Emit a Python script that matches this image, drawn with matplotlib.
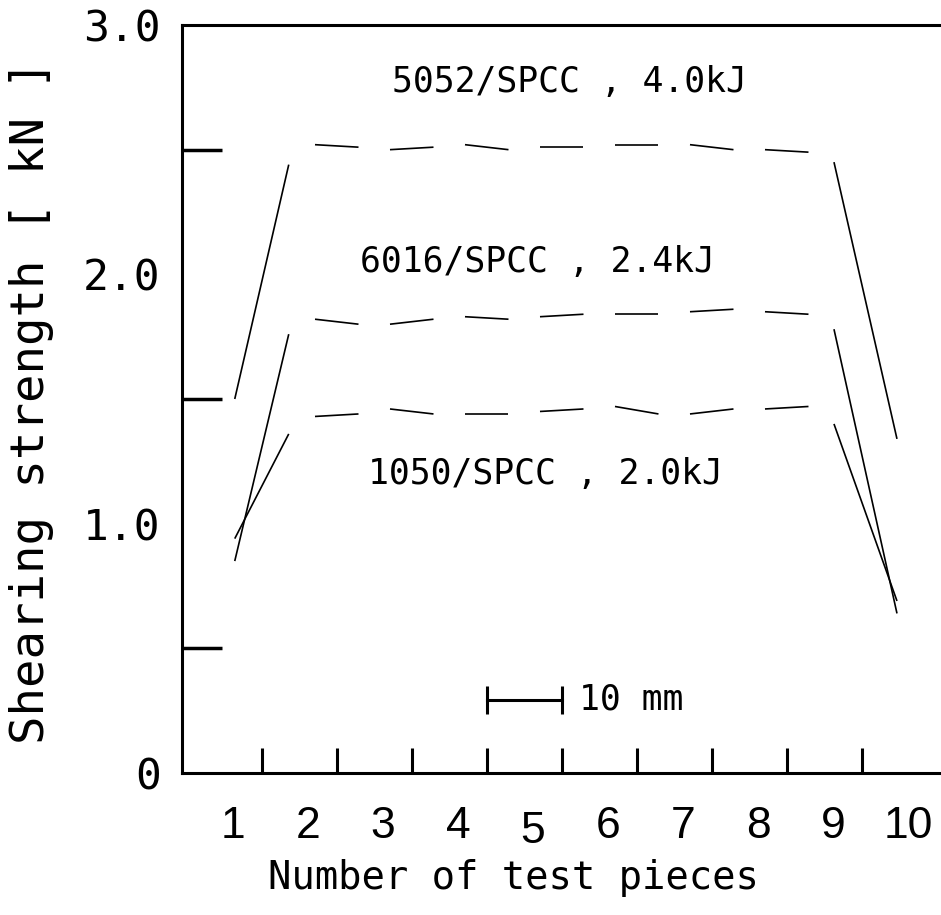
import numpy as np
import matplotlib
matplotlib.use("Agg")
import matplotlib.pyplot as plt
import matplotlib.transforms as mtransforms

# --- data ---
pieces = np.arange(1, 11)
xtick_labels = [str(p) for p in pieces]
ytick_values = [0, 1.0, 2.0, 3.0]
ytick_labels = ["0", "1.0", "2.0", "3.0"]
yminor_values = [0.5, 1.0, 1.5, 2.0, 2.5]

series_names = ["5052/SPCC , 4.0kJ", "6016/SPCC , 2.4kJ", "1050/SPCC , 2.0kJ"]

# value at the start / end of each segment between neighbouring test pieces (kN)
s5052_start = [1.50, 2.52, 2.50, 2.52, 2.51, 2.52, 2.52, 2.50, 2.45]
s5052_end = [2.44, 2.51, 2.51, 2.50, 2.51, 2.52, 2.50, 2.49, 1.34]
s6016_start = [0.85, 1.82, 1.80, 1.83, 1.83, 1.84, 1.85, 1.85, 1.78]
s6016_end = [1.76, 1.80, 1.82, 1.82, 1.84, 1.84, 1.86, 1.84, 0.64]
s1050_start = [0.94, 1.43, 1.46, 1.44, 1.45, 1.47, 1.44, 1.46, 1.40]
s1050_end = [1.36, 1.44, 1.44, 1.44, 1.46, 1.44, 1.46, 1.47, 0.69]

label_x = [5.55, 5.13, 5.23]
label_y = [2.77, 2.05, 1.20]

# --- figure ---
fig = plt.figure(figsize=(9.41, 9.15), dpi=100)
ax = fig.add_axes([181.5 / 941, 142 / 915, 759.5 / 941, 748 / 915])
ax.set_xlim(0.38, 10.507)
ax.set_ylim(0, 3.0)

mono = ["DejaVu Sans Mono"]
sans = ["Liberation Sans"]

# segments: the gap around each test piece is left open
seg_center = pieces[:-1] + np.array([0.45] * 8 + [0.50])
seg_half = np.array([0.36] + [0.29] * 7 + [0.42])

for starts, ends in [(s5052_start, s5052_end), (s6016_start, s6016_end),
                     (s1050_start, s1050_end)]:
    for c, h, a, b in zip(seg_center, seg_half, starts, ends):
        ax.plot([c - h, c + h], [a, b], color="black", lw=1.2,
                solid_capstyle="butt")

for name, x, y in zip(series_names, label_x, label_y):
    ax.text(x, y, name, ha="center", va="center", fontsize=25, family=mono)

# scale bar 10 mm
ax.plot([4.453, 5.453], [0.293, 0.293], color="black", lw=2.2,
        marker="|", markersize=20, markeredgewidth=2.2)
ax.text(5.68, 0.293, "10 mm", ha="left", va="center", fontsize=25, family=mono)

# axes styling
for side in ["left", "bottom", "top"]:
    ax.spines[side].set_linewidth(2.2)
ax.spines["right"].set_visible(False)

ax.set_xticks(pieces)
ax.set_xticklabels(xtick_labels, family=sans, fontsize=32)
ax.set_xticks(pieces[:-1] + 0.45, minor=True)
ax.tick_params(axis="x", which="major", length=0, pad=24)
ax.tick_params(axis="x", which="minor", direction="in", length=18, width=2.2)
shift = mtransforms.ScaledTranslation(5 / 100, 0, fig.dpi_scale_trans)
for i, lab in enumerate(ax.get_xticklabels()):
    if i == 4:
        lab.set_transform(lab.get_transform() + mtransforms.ScaledTranslation(
            5 / 100, -5 / 100, fig.dpi_scale_trans))
    else:
        lab.set_transform(lab.get_transform() + shift)

ax.set_yticks(ytick_values)
ax.set_yticklabels(ytick_labels, family=mono, fontsize=31)
ax.set_yticks(yminor_values, minor=True)
ax.tick_params(axis="y", which="major", length=0, pad=15)
ax.tick_params(axis="y", which="minor", direction="in", length=29, width=2.5)

ax.set_xlabel("Number of test pieces", family=mono, fontsize=28)
ax.xaxis.set_label_coords(0.4365, -0.14)
ax.xaxis.label.set_va("center")
ax.set_ylabel("Shearing strength [ kN ]", family=mono, fontsize=34)
ax.yaxis.set_label_coords(-0.197, 0.496)
ax.yaxis.label.set_va("center")

fig.savefig("out.png", dpi=100)
